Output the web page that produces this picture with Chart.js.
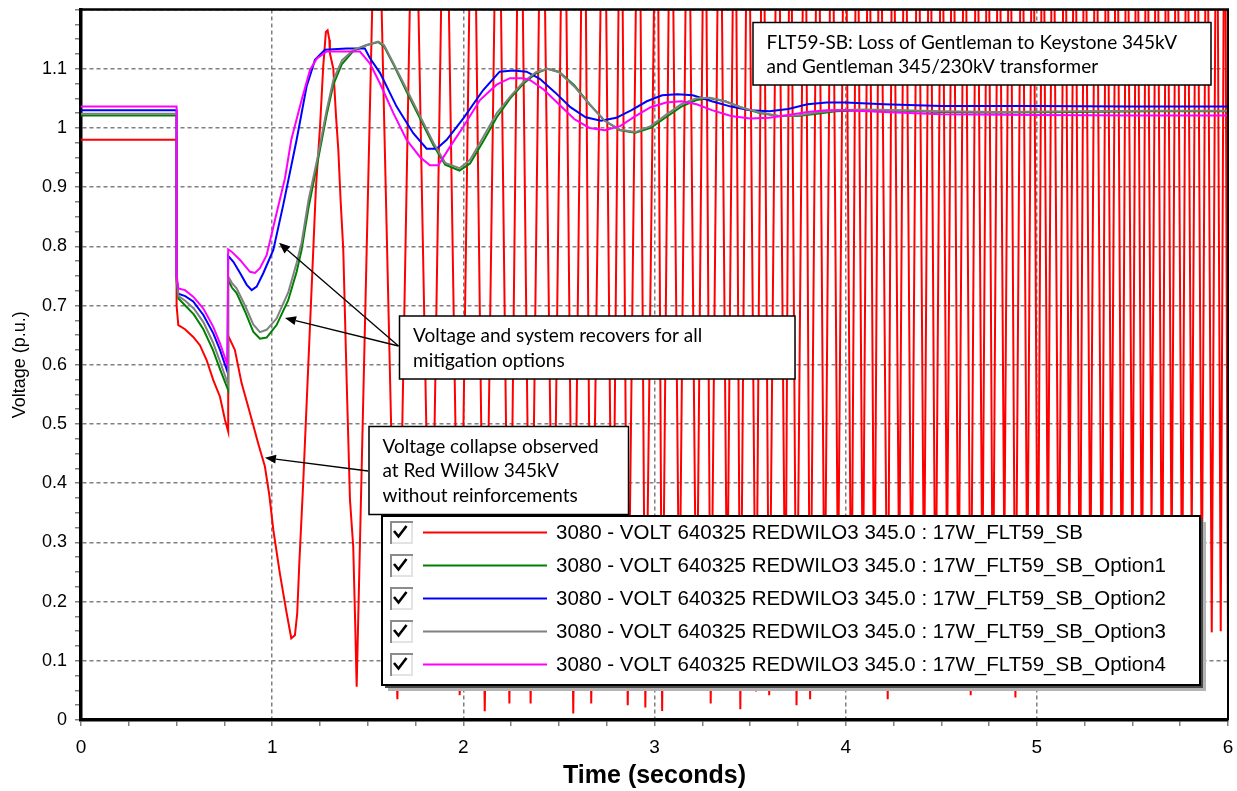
<!DOCTYPE html>
<html>
<head>
<meta charset="utf-8">
<title>FLT59-SB voltage at Red Willow 345kV</title>
<script src="https://cdn.jsdelivr.net/npm/chart.js@4.4.1/dist/chart.umd.min.js"></script>
<style>
  html, body { margin: 0; padding: 0; background: #ffffff; }
  canvas { display: block; }
</style>
</head>
<body>
<canvas id="chart" width="1237" height="791"></canvas>
<script>
// ---- Data: time (seconds) and bus voltage (p.u.) for each simulation case ----

// Tick labels
const xTickLabels = ['0', '1', '2', '3', '4', '5', '6'];
const yTickLabels = ['0', '0.1', '0.2', '0.3', '0.4', '0.5', '0.6', '0.7', '0.8', '0.9', '1', '1.1'];

// Case names
const seriesLabels = [
  '3080 - VOLT 640325 REDWILO3 345.0 : 17W_FLT59_SB',
  '3080 - VOLT 640325 REDWILO3 345.0 : 17W_FLT59_SB_Option1',
  '3080 - VOLT 640325 REDWILO3 345.0 : 17W_FLT59_SB_Option2',
  '3080 - VOLT 640325 REDWILO3 345.0 : 17W_FLT59_SB_Option3',
  '3080 - VOLT 640325 REDWILO3 345.0 : 17W_FLT59_SB_Option4'
];

// Base case (no reinforcements): collapse followed by sustained swings
const baseT = [
  0, 0.5, 0.5, 0.509, 0.544, 0.587, 0.622, 0.657, 0.692, 0.727, 0.753, 0.77,
  0.77, 0.805, 0.84, 0.884, 0.927, 0.962, 0.985, 1.006, 1.04, 1.058, 1.076, 1.1, 1.119, 1.131, 1.142,
  1.163, 1.215, 1.229, 1.25, 1.267, 1.281, 1.29, 1.299, 1.302, 1.32, 1.334, 1.346, 1.358, 1.372,
  1.39, 1.407, 1.424, 1.433, 1.442,
  1.548, 1.655, 1.742, 1.83, 1.904, 1.981, 2.05, 2.112, 2.181, 2.241, 2.296, 2.352, 2.411, 2.47,
  2.526, 2.575, 2.631, 2.669, 2.735, 2.78, 2.824, 2.86, 2.918, 2.952, 3.013, 3.04, 3.086, 3.13,
  3.175, 3.22, 3.264, 3.294, 3.342, 3.38, 3.421, 3.449, 3.489, 3.531, 3.567, 3.6, 3.645, 3.685,
  3.71, 3.743, 3.787, 3.814, 3.855, 3.89, 3.928, 3.96, 3.996, 4.03, 4.059, 4.09, 4.121, 4.15,
  4.179, 4.22, 4.247, 4.28, 4.31, 4.345, 4.378, 4.41, 4.44, 4.47, 4.503, 4.53, 4.561, 4.59,
  4.623, 4.654, 4.686, 4.715, 4.744, 4.77, 4.801, 4.83, 4.859, 4.888, 4.922, 4.95, 4.979, 5.005,
  5.031, 5.058, 5.084, 5.115, 5.146, 5.17, 5.199, 5.225, 5.251, 5.28, 5.309, 5.34, 5.366, 5.39,
  5.418, 5.445, 5.471, 5.5, 5.523, 5.55, 5.575, 5.6, 5.628, 5.655, 5.68, 5.705, 5.732, 5.76,
  5.785, 5.81, 5.837, 5.863, 5.889, 5.915, 5.941, 5.962, 5.983, 6.0
];
const baseV = [
  0.98, 0.98, 0.70, 0.667, 0.66, 0.647, 0.633, 0.608, 0.574, 0.546, 0.507, 0.487,
  0.649, 0.625, 0.569, 0.518, 0.467, 0.428, 0.38, 0.321, 0.248, 0.214, 0.18, 0.138, 0.143, 0.18, 0.265,
  0.405, 0.794, 0.90, 1.0, 1.103, 1.162, 1.165, 1.149, 1.126, 1.10, 1.02, 0.963, 0.878, 0.794,
  0.569, 0.372, 0.293, 0.18, 0.056,
  1.55, 0.035, 1.6, 0.09, 1.62, 0.042, 1.64, 0.015, 1.63, 0.028, 1.64, 0.028, 1.62, 0.12,
  1.64, 0.011, 1.63, 0.028, 1.62, 0.10, 1.63, 0.025, 1.64, 0.021, 1.62, 0.015, 1.63, 0.14,
  1.62, 0.09, 1.63, 0.028, 1.62, 0.16, 1.63, 0.018, 1.62, 0.048, 1.63, 0.042, 1.62, 0.11,
  1.62, 0.025, 1.63, 0.035, 1.62, 0.13, 1.62, 0.20, 1.63, 0.10, 1.62, 0.17, 1.62, 0.12,
  1.63, 0.035, 1.62, 0.22, 1.62, 0.14, 1.63, 0.19, 1.62, 0.10, 1.62, 0.24, 1.63, 0.13,
  1.62, 0.042, 1.62, 0.20, 1.63, 0.11, 1.62, 0.27, 1.62, 0.038, 1.63, 0.18, 1.62, 0.12,
  1.62, 0.25, 1.63, 0.15, 1.62, 0.30, 1.62, 0.10, 1.63, 0.21, 1.62, 0.14, 1.62, 0.28,
  1.63, 0.12, 1.62, 0.23, 1.62, 0.17, 1.63, 0.32, 1.62, 0.13, 1.62, 0.26, 1.63, 0.16,
  1.62, 0.30, 1.62, 0.20, 1.63, 0.148, 1.62, 0.15, 1.62, 0.11
];

// Option 1
const opt1T = [
  0, 0.5, 0.5, 0.51, 0.545, 0.59, 0.64, 0.69, 0.73, 0.77,
  0.77, 0.79, 0.814, 0.858, 0.901, 0.936, 0.971, 1.023, 1.084, 1.128,
  1.154, 1.19, 1.235, 1.285, 1.32, 1.365, 1.425, 1.495, 1.555, 1.585,
  1.635, 1.705, 1.775, 1.845, 1.905, 1.98, 2.035, 2.105, 2.175, 2.245,
  2.315, 2.38, 2.44, 2.5, 2.58, 2.66, 2.74, 2.82, 2.9, 2.98,
  3.06, 3.14, 3.22, 3.29, 3.37, 3.45, 3.55, 3.65, 3.75, 3.85,
  3.95, 4.1, 4.3, 4.5, 4.8, 5.2, 5.6, 6.0
];
const opt1V = [
  1.021, 1.021, 0.74, 0.712, 0.70, 0.685, 0.66, 0.625, 0.59, 0.557,
  0.743, 0.73, 0.721, 0.69, 0.656, 0.644, 0.646, 0.667, 0.709, 0.757,
  0.794, 0.865, 0.938, 1.022, 1.073, 1.108, 1.13, 1.14, 1.145, 1.138,
  1.107, 1.06, 1.015, 0.97, 0.938, 0.928, 0.94, 0.978, 1.018, 1.05,
  1.075, 1.092, 1.10, 1.095, 1.072, 1.04, 1.012, 0.996, 0.992, 1.0,
  1.018, 1.036, 1.047, 1.05, 1.045, 1.035, 1.025, 1.02, 1.02, 1.024,
  1.028, 1.03, 1.029, 1.027, 1.026, 1.027, 1.028, 1.028
];

// Option 2
const opt2T = [
  0, 0.5, 0.5, 0.509, 0.545, 0.587, 0.64, 0.692, 0.727, 0.766,
  0.77, 0.797, 0.832, 0.867, 0.893, 0.919, 0.954, 1.006, 1.058, 1.128,
  1.18, 1.224, 1.276, 1.39, 1.485, 1.511, 1.564, 1.651, 1.738, 1.808,
  1.86, 1.913, 2.0, 2.104, 2.19, 2.261, 2.331, 2.4, 2.48, 2.56,
  2.64, 2.72, 2.8, 2.88, 2.96, 3.04, 3.12, 3.2, 3.3, 3.4,
  3.5, 3.6, 3.7, 3.8, 3.9, 4.0, 4.2, 4.5, 5.0, 5.5, 6.0
];
const opt2V = [
  1.03, 1.03, 0.748, 0.72, 0.716, 0.707, 0.684, 0.653, 0.625, 0.588,
  0.784, 0.774, 0.755, 0.735, 0.726, 0.732, 0.755, 0.794, 0.87, 0.98,
  1.07, 1.115, 1.132, 1.134, 1.134, 1.118, 1.093, 1.036, 0.991, 0.965,
  0.965, 0.98, 1.016, 1.064, 1.095, 1.097, 1.095, 1.083, 1.06, 1.035,
  1.018, 1.012, 1.017, 1.03, 1.045, 1.055, 1.057, 1.055, 1.045, 1.036,
  1.03, 1.028, 1.032, 1.04, 1.043, 1.043, 1.04, 1.037, 1.037, 1.036, 1.036
];

// Option 3
const opt3T = opt1T.slice();
const opt3V = [
  1.024, 1.024, 0.745, 0.716, 0.708, 0.695, 0.672, 0.638, 0.603, 0.566,
  0.749, 0.738, 0.729, 0.70, 0.668, 0.655, 0.659, 0.678, 0.722, 0.772,
  0.806, 0.878, 0.946, 1.03, 1.081, 1.114, 1.132, 1.14, 1.146, 1.14,
  1.109, 1.064, 1.019, 0.974, 0.941, 0.932, 0.946, 0.985, 1.025, 1.053,
  1.078, 1.094, 1.10, 1.094, 1.07, 1.04, 1.012, 0.997, 0.993, 1.003,
  1.022, 1.04, 1.05, 1.051, 1.045, 1.035, 1.026, 1.02, 1.021, 1.026,
  1.03, 1.031, 1.03, 1.028, 1.027, 1.028, 1.029, 1.029
];

// Option 4
const opt4T = [
  0, 0.5, 0.5, 0.509, 0.544, 0.587, 0.64, 0.692, 0.727, 0.766,
  0.77, 0.788, 0.832, 0.884, 0.91, 0.936, 0.971, 1.023, 1.067, 1.10,
  1.154, 1.198, 1.233, 1.285, 1.459, 1.511, 1.564, 1.634, 1.703, 1.773,
  1.825, 1.869, 1.93, 2.0, 2.087, 2.174, 2.244, 2.313, 2.348, 2.42,
  2.5, 2.58, 2.66, 2.74, 2.82, 2.9, 2.98, 3.06, 3.14, 3.22,
  3.3, 3.4, 3.5, 3.6, 3.7, 3.8, 3.9, 4.0, 4.2, 4.5,
  5.0, 5.5, 6.0
];
const opt4V = [
  1.036, 1.036, 0.752, 0.729, 0.726, 0.715, 0.695, 0.664, 0.636, 0.6,
  0.795, 0.791, 0.777, 0.757, 0.755, 0.763, 0.785, 0.856, 0.915, 0.98,
  1.047, 1.098, 1.117, 1.129, 1.129, 1.109, 1.075, 1.025, 0.98, 0.951,
  0.937, 0.937, 0.968, 1.002, 1.047, 1.073, 1.084, 1.084, 1.081, 1.065,
  1.04, 1.015, 1.0, 0.996, 1.003, 1.02, 1.035, 1.043, 1.045, 1.04,
  1.03, 1.02, 1.016, 1.017, 1.022, 1.027, 1.03, 1.03, 1.027, 1.023,
  1.022, 1.021, 1.021
];

// Callout notes: text and the (time, voltage) each arrow points to
const noteTitle = ['FLT59-SB: Loss of Gentleman to Keystone 345kV', 'and Gentleman 345/230kV transformer'];
const noteRecover = ['Voltage and system recovers for all', 'mitigation options'];
const noteCollapse = ['Voltage collapse observed', 'at Red Willow 345kV', 'without reinforcements'];
const recoverTargets = [[1.036, 0.806], [1.067, 0.679]];
const collapseTargets = [[0.962, 0.443]];

// ---- Styling ----
const COLORS = ['#ff0000', '#008000', '#0000ff', '#808080', '#ff00ff'];
const AXIS_FONT = 'Liberation Sans, Arial, sans-serif';
const NOTE_FONT = 'Lato, "Open Sans", sans-serif';

function zip(ts, vs) {
  const n = Math.min(ts.length, vs.length);
  const out = [];
  for (let i = 0; i < n; i++) out.push({ x: ts[i], y: vs[i] });
  return out;
}
const onStep = (v, step) => Math.abs(v / step - Math.round(v / step)) < 1e-6;

const seriesData = [zip(baseT, baseV), zip(opt1T, opt1V), zip(opt2T, opt2V), zip(opt3T, opt3V), zip(opt4T, opt4V)];
// stacking: base case underneath, option 4 on top
const drawOrder = [5, 4, 3, 2, 1];

const datasets = seriesData.map((d, i) => ({
  label: seriesLabels[i],
  data: d,
  borderColor: COLORS[i],
  backgroundColor: COLORS[i],
  borderWidth: 2,
  pointRadius: 0,
  pointHoverRadius: 0,
  tension: 0,
  fill: false,
  order: drawOrder[i]
}));

// ---- Overlay drawing: frame, legend panel, callouts, arrows ----
function drawArrow(ctx, x0, y0, x1, y1) {
  const ang = Math.atan2(y1 - y0, x1 - x0);
  const len = 11, half = 4.5;
  const bx = x1 - len * Math.cos(ang), by = y1 - len * Math.sin(ang);
  ctx.beginPath();
  ctx.moveTo(x0, y0);
  ctx.lineTo(bx, by);
  ctx.stroke();
  ctx.beginPath();
  ctx.moveTo(x1, y1);
  ctx.lineTo(bx + half * Math.sin(ang), by - half * Math.cos(ang));
  ctx.lineTo(bx - half * Math.sin(ang), by + half * Math.cos(ang));
  ctx.closePath();
  ctx.fill();
}

function drawNote(ctx, box, lines) {
  ctx.fillStyle = '#ffffff';
  ctx.fillRect(box.x, box.y, box.w, box.h);
  ctx.strokeStyle = '#000000';
  ctx.lineWidth = 1.5;
  ctx.strokeRect(box.x, box.y, box.w, box.h);
  ctx.fillStyle = '#000000';
  ctx.font = '19px ' + NOTE_FONT;
  ctx.textAlign = 'left';
  ctx.textBaseline = 'alphabetic';
  lines.forEach((t, i) => ctx.fillText(t, box.x + 13.5, box.y + 26 + i * 24.8));
}

function drawCheckbox(ctx, x, cy) {
  const s = 23, y = cy - 11.5;
  ctx.fillStyle = '#ffffff';
  ctx.fillRect(x, y, s, s);
  ctx.lineWidth = 2;
  ctx.strokeStyle = '#8c8c8c';
  ctx.beginPath();
  ctx.moveTo(x + 1, y + s); ctx.lineTo(x + 1, y + 1); ctx.lineTo(x + s, y + 1);
  ctx.stroke();
  ctx.strokeStyle = '#e3e3e3';
  ctx.beginPath();
  ctx.moveTo(x + s - 1, y + 2); ctx.lineTo(x + s - 1, y + s - 1); ctx.lineTo(x + 2, y + s - 1);
  ctx.stroke();
  ctx.strokeStyle = '#000000';
  ctx.lineWidth = 2.6;
  ctx.beginPath();
  ctx.moveTo(x + 4, cy - 1.5);
  ctx.lineTo(x + 8.5, cy + 4);
  ctx.lineTo(x + 16.5, cy - 6.5);
  ctx.stroke();
}

function drawLegendPanel(chart) {
  const ctx = chart.ctx;
  const L = { x: 382, y: 516, w: 818, h: 169 };
  ctx.save();
  // drop shadow
  ctx.fillStyle = '#b4b4b4';
  ctx.fillRect(L.x + 6, L.y + 6, L.w, L.h);
  ctx.fillStyle = '#4a4a4a';
  ctx.fillRect(L.x + 3, L.y + 3, L.w, L.h);
  ctx.fillStyle = '#ffffff';
  ctx.fillRect(L.x, L.y, L.w, L.h);
  ctx.strokeStyle = '#000000';
  ctx.lineWidth = 2;
  ctx.strokeRect(L.x, L.y, L.w, L.h);

  chart.data.datasets.forEach((ds, i) => {
    const cy = 532.5 + i * 33;
    drawCheckbox(ctx, 390, cy);
    ctx.strokeStyle = ds.borderColor;
    ctx.lineWidth = 2;
    ctx.beginPath();
    ctx.moveTo(423, cy);
    ctx.lineTo(547, cy);
    ctx.stroke();
    ctx.fillStyle = '#000000';
    ctx.font = '20.5px ' + AXIS_FONT;
    ctx.textAlign = 'left';
    ctx.textBaseline = 'middle';
    ctx.fillText(ds.label, 556, cy + 1);
  });
  ctx.restore();
}

const overlayPlugin = {
  id: 'overlay',
  afterDatasetsDraw(chart) {
    const { ctx, chartArea: a } = chart;
    ctx.save();
    ctx.strokeStyle = '#000000';
    ctx.lineWidth = 2.5;
    ctx.beginPath();
    ctx.moveTo(a.left, a.top);
    ctx.lineTo(a.right + 1, a.top);
    ctx.stroke();
    ctx.lineWidth = 2;
    ctx.beginPath();
    ctx.moveTo(a.right, a.top);
    ctx.lineTo(a.right, a.bottom);
    ctx.stroke();
    ctx.restore();
  },
  afterDraw(chart) {
    const ctx = chart.ctx;
    const xs = chart.scales.x, ys = chart.scales.y;
    drawLegendPanel(chart);

    ctx.save();
    const boxTitle = { x: 753, y: 22.5, w: 458, h: 62.5 };
    const boxRecover = { x: 399.5, y: 316, w: 395.5, h: 63 };
    const boxCollapse = { x: 369, y: 426.5, w: 259.5, h: 88 };
    drawNote(ctx, boxTitle, noteTitle);
    drawNote(ctx, boxRecover, noteRecover);
    drawNote(ctx, boxCollapse, noteCollapse);

    ctx.strokeStyle = '#000000';
    ctx.fillStyle = '#000000';
    ctx.lineWidth = 1.3;
    recoverTargets.forEach(([t, v]) => {
      drawArrow(ctx, boxRecover.x - 1, 346, xs.getPixelForValue(t), ys.getPixelForValue(v));
    });
    collapseTargets.forEach(([t, v]) => {
      drawArrow(ctx, boxCollapse.x - 1, 471, xs.getPixelForValue(t), ys.getPixelForValue(v));
    });
    ctx.restore();
  }
};

const chart = new Chart(document.getElementById('chart'), {
  type: 'line',
  data: { datasets },
  plugins: [overlayPlugin],
  options: {
    responsive: false,
    animation: false,
    devicePixelRatio: 1,
    events: [],
    layout: { padding: { top: 9.5, right: 9, left: 0, bottom: 0 } },
    plugins: { legend: { display: false }, tooltip: { enabled: false } },
    scales: {
      x: {
        type: 'linear',
        min: 0,
        max: 6,
        ticks: {
          stepSize: 0.25,
          autoSkip: false,
          maxRotation: 0,
          padding: 10,
          color: '#000000',
          font: { family: AXIS_FONT, size: 19 },
          callback: (v) => onStep(v, 1) ? (xTickLabels[Math.round(v)] ?? '') : ''
        },
        grid: {
          color: (c) => (c.tick && onStep(c.tick.value, 1)) ? '#808080' : 'rgba(0,0,0,0)',
          lineWidth: 1.5,
          tickColor: '#808080',
          tickLength: 6,
          tickWidth: 1.5
        },
        border: { display: true, color: '#000000', width: 3.5, dash: [4, 3] },
        title: {
          display: true,
          text: 'Time (seconds)',
          color: '#000000',
          font: { family: AXIS_FONT, size: 25, weight: 'bold' },
          padding: { top: 0, bottom: 0 }
        },
        afterFit: (s) => { s.height = 71; s.paddingLeft = 0; s.paddingRight = 0; }
      },
      y: {
        type: 'linear',
        min: 0,
        max: 1.2,
        ticks: {
          stepSize: 0.025,
          autoSkip: false,
          padding: 8,
          color: '#000000',
          font: { family: AXIS_FONT, size: 18 },
          callback: (v) => onStep(v, 0.1) ? (yTickLabels[Math.round(v * 10)] ?? '') : ''
        },
        grid: {
          color: (c) => (c.tick && onStep(c.tick.value, 0.1)) ? '#808080' : 'rgba(0,0,0,0)',
          lineWidth: 1.5,
          tickColor: '#808080',
          tickLength: 6,
          tickWidth: 1.5
        },
        border: { display: true, color: '#000000', width: 3.5, dash: [4, 3] },
        title: {
          display: true,
          text: 'Voltage (p.u.)',
          color: '#000000',
          font: { family: AXIS_FONT, size: 18 },
          padding: { top: 9, bottom: 0 }
        },
        afterFit: (s) => { s.width = 81; s.paddingTop = 0; s.paddingBottom = 0; }
      }
    }
  }
});
</script>
</body>
</html>
